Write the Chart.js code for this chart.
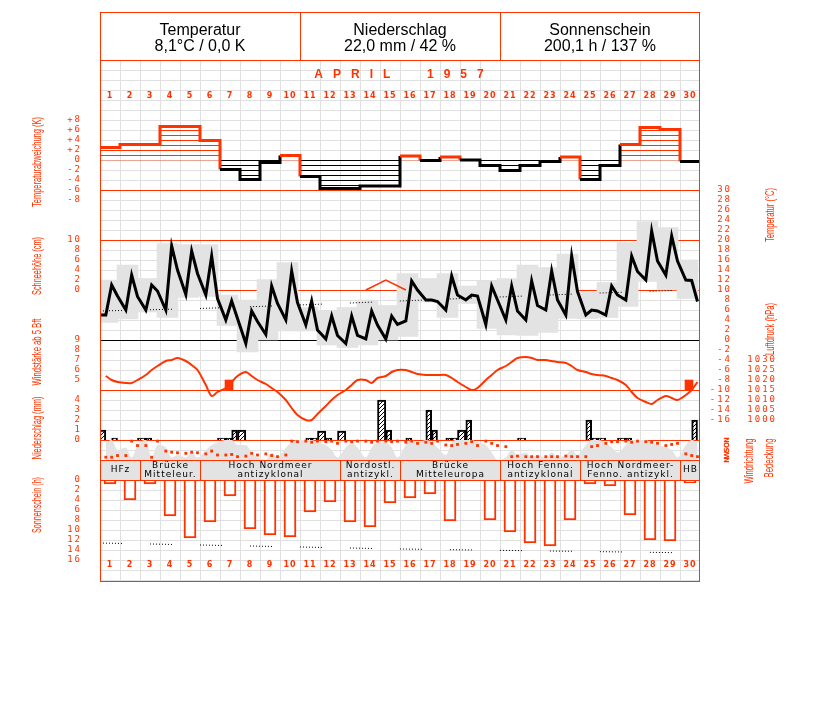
<!DOCTYPE html>
<html>
<head>
<meta charset="utf-8">
<script src="https://cdn.jsdelivr.net/npm/chart.js@4.4.0/dist/chart.umd.min.js"></script>
<style>
  html, body { margin: 0; background: #fff; }
  #wrap { width: 827px; height: 702px; position: relative; }
</style>
</head>
<body>
<div id="wrap"><canvas id="c"></canvas></div>
<script>
// Monthly climate sheet, April 1957. One Chart.js canvas, every panel is its own
// hidden y scale whose range is chosen so its values land in the right band.

const RED = '#ff3300';
const BOX_GREY = '#e3e3e3';
const GRID = '#e0e0e0';

// ---- header / labels ----
const headerTitles = ['Temperatur', 'Niederschlag', 'Sonnenschein'];
const headerValues = ['8,1°C / 0,0 K', '22,0 mm / 42 %', '200,1 h / 137 %'];
const monthTitle = 'APRIL  1957';
const dayLabels = ['1','2','3','4','5','6','7','8','9','10','11','12','13','14','15',
  '16','17','18','19','20','21','22','23','24','25','26','27','28','29','30'];

// tick labels per panel
const devTicks = [8, 6, 4, 2, 0, -2, -4, -6, -8];
const snowTicks = [10, 8, 6, 4, 2, 0];
const windTicks = [9, 8, 7, 6, 5];
const rrTicks = [4, 3, 2, 1, 0];
const sunTicks = [0, 2, 4, 6, 8, 10, 12, 14, 16];
const tempTicks = [30, 28, 26, 24, 22, 20, 18, 16, 14, 12, 10, 8, 6, 4, 2, 0, -2, -4, -6, -8, -10, -12, -14, -16];
const presTicks = [1030, 1025, 1020, 1015, 1010, 1005, 1000];
const dirTickValues = [0, 90, 180, 270, 360];
const dirTickLabels = ['N', 'O', 'S', 'W', 'N'];

// ---- daily data ----
// temperature deviation (K), one step per day
const tempDev = [2.5, 3.1, 3.1, 6.7, 6.7, 3.9, -1.9, -3.9, -0.5, 0.9,
  -3.3, -5.7, -5.7, -5.2, -5.2, 0.8, -0.1, 0.6, 0, -1.1,
  -2.1, -1.1, -0.3, 0.6, -3.9, -1.1, 3.1, 6.5, 6.1, -0.3];

// air temperature (°C) at 7, 14, 21 h
const prevT21 = 5.0; // 31 March, 21 h
const temp7 = [5.0, 6, 6, 6, 9.1, 9, 4, -0.7, 1.1, 4,
  3, 0.2, -0.7, 0.2, 0.2, 3.8, 8, 6, 8, 3.1,
  4, 4, 6, 5, 5, 5, 8, 12, 13, 12];
const temp14 = [11, 13, 11, 18.8, 17.8, 16.8, 7.8, 5.8, 10.8, 13.8,
  7.8, 4.8, 4.8, 5.8, 4.8, 11.8, 8, 12.8, 9, 10.8,
  10.8, 11.8, 13.8, 16.8, 6, 10.8, 16.8, 21.8, 20.8, 11.9];
const temp21 = [8.8, 8.7, 9.8, 14, 13.3, 8.3, 4.3, 3.7, 7.3, 7.5,
  2, 0.9, 0.9, 3, 3.1, 10, 7.7, 9, 8.8, 8,
  5.8, 6.9, 8, 9.7, 5.8, 9, 13.7, 15.8, 15.8, 7.7];
// daily extremes (21 h - 21 h)
const tempMax = [12, 15, 12.3, 19.3, 19.1, 19.1, 9, 8, 12.1, 15.5,
  6.5, 5.8, 6.5, 8, 6.9, 13.3, 12.3, 13.3, 10.8, 11.8,
  12.3, 15, 14.5, 17.2, 9.7, 11.5, 19.5, 23.7, 22.5, 16];
const tempMin = [3.5, 4.2, 5.6, 4.5, 8.5, 8.7, 2.9, -2.4, 0, 1.8,
  1.8, -1, -1.5, -1, 0, 0.7, 7.6, 4.5, 7.3, 2.3,
  1, 0.9, 1.5, 4.3, 4.3, 4.5, 6.7, 11.7, 10, 8.3];
// long-term mean temperature (°C), read at day 0, 5, ... 30
const normalDay = [0, 5, 10, 15, 20, 25, 30];
const normalTemp = [5.8, 6.3, 7.0, 7.8, 8.6, 9.4, 10.1];

// snow depth (cm) at 7 h
const snow7 = [null, null, null, null, null, null, null, null, null, null,
  null, null, null, 0, 2, 0, null, null, null, null,
  null, null, null, null, null, null, null, null, null, null];

// air pressure (hPa) at 7, 14, 21 h
const pres7 = [1022, 1018.5, 1022.5, 1029.5, 1029.5, 1017.5, 1016, 1024, 1018, 1010,
  1000, 1007, 1015, 1020, 1022, 1025, 1022.5, 1022.5, 1016.5, 1020,
  1027, 1031.5, 1030, 1028.5, 1024, 1022, 1017.5, 1009, 1012, 1012.5];
const pres14 = [1020, 1018.5, 1025, 1030, 1027.5, 1012, 1019, 1022, 1016, 1006,
  1000, 1010, 1017.5, 1018.5, 1024, 1024, 1022.5, 1021, 1015, 1022.5,
  1029, 1031, 1029.5, 1027, 1023, 1021, 1014, 1008, 1011, 1015];
const pres21 = [1019, 1020, 1027, 1031, 1025, 1014, 1022, 1020, 1014, 1002.5,
  1003, 1012.5, 1020, 1021, 1025, 1023, 1022.5, 1019, 1016, 1025,
  1031, 1030, 1029, 1025, 1022.5, 1020, 1011, 1010, 1010, 1019];

// wind force >= 5 Bft (day, force)
const windDays = [7, 30];
const windForce = [5, 5];

// precipitation (mm) per observation interval; null = none
// night: 21 h of the day before until 7 h of this day
const rainNight = [1.0, null, 0.2, null, null, null, 0.2, 1.0, null, null,
  null, 0.9, 0.9, null, 4.0, null, null, null, 1.0, null,
  null, 0.2, null, null, null, 0.2, 0.2, null, null, null];
const rainAM = [null, null, 0.2, null, null, null, 0.2, null, null, null,
  0.2, 0.2, null, null, 1.0, 0.2, 3.0, 0.2, 2.0, null,
  null, null, null, null, 2.0, null, 0.2, null, null, null];
const rainPM = [0.2, null, null, null, null, null, 1.0, null, null, null,
  0.2, null, null, null, null, null, 1.0, 0.2, null, null,
  null, null, null, null, 0.2, null, null, null, null, 2.0];

// wind direction (degrees) at 7, 14, 21 h
const dir7 = [310, 280, 100, 200, 240, 250, 270, 290, 250, 270,
  20, 30, 20, 20, 20, 40, 40, 90, 60, 20,
  120, 300, 300, 290, 300, 60, 20, 30, 100, 250];
const dir14 = [310, 20, 310, 220, 220, 200, 260, 240, 280, 20,
  40, 20, 30, 40, 30, 20, 60, 100, 30, 60,
  300, 300, 300, 300, 120, 30, 40, 40, 80, 280];
const dir21 = [280, 100, 20, 230, 230, 270, 300, 270, 300, 30,
  20, 60, 20, 20, 20, 60, 20, 80, 100, 100,
  290, 300, 300, 300, 100, 30, 20, 60, 60, 300];

// cloud cover (octas) at 7, 14, 21 h
const cloud7 = [7, 5, 8, 5, 1, 4, 8, 6, 0, 5,
  8, 6, 5, 1, 7, 6, 8, 2, 8, 6,
  1, 3, 1, 2, 6, 7, 6, 8, 5, 6];
const cloud14 = [8, 1, 1, 1, 3, 6, 8, 3, 3, 7,
  8, 4, 7, 5, 5, 8, 7, 7, 8, 3,
  4, 1, 3, 4, 8, 5, 8, 7, 4, 8];
const cloud21 = [4, 6, 6, 2, 1, 7, 6, 1, 1, 8,
  7, 1, 5, 7, 1, 7, 5, 8, 7, 0,
  2, 2, 1, 2, 8, 3, 8, 6, 1, 7];

// sunshine duration (h) and possible sunshine (h)
const sunshine = [0.8, 4, 0.8, 7.2, 11.6, 8.4, 3.2, 9.8, 11, 11.4,
  6.4, 4.4, 8.4, 9.4, 4.6, 3.6, 2.8, 8.2, 0, 8,
  10.4, 12.6, 13.2, 8, 0.8, 1.2, 7, 12, 12.2, 0.6];
const possibleDay = [0, 15, 30];
const possibleSun = [12.6, 13.8, 14.6];

// Großwetterlagen
const regimeFrom = [1, 3, 6, 13, 16, 21, 25, 30];
const regimeTo = [2, 5, 12, 15, 20, 24, 29, 30];
const regimeText = [['HFz'], ['Brücke', 'Mitteleur.'], ['Hoch Nordmeer', 'antizyklonal'],
  ['Nordostl.', 'antizykl.'], ['Brücke', 'Mitteleuropa'], ['Hoch Fenno.', 'antizyklonal'],
  ['Hoch Nordmeer-', 'Fenno. antizykl.'], ['HB']];

// ---- helpers ----
const TOP = 12, BOTTOM = 582;
// range of a hidden y axis so that value v0 sits at pixel px0 with ppu pixels per unit
function band(v0, px0, ppu, reverse) {
  if (reverse) return { min: v0 - (px0 - TOP) / ppu, max: v0 + (BOTTOM - px0) / ppu, reverse: true };
  return { min: v0 - (BOTTOM - px0) / ppu, max: v0 + (px0 - TOP) / ppu };
}
const hidden = (r) => ({ type: 'linear', display: false, grid: { display: false }, ...r });

function readings(a7, a14, a21) {
  const pts = [];
  a7.forEach((_, i) => {
    pts.push({ x: i + 7 / 24, y: a7[i] }, { x: i + 14 / 24, y: a14[i] }, { x: i + 21 / 24, y: a21[i] });
  });
  return pts;
}
// bar data centred on an observation interval (hours from midnight of the day)
const interval = (arr, h0, h1) => arr.map((v, i) => ({ x: i + (h0 + h1) / 48, y: v }));

const cctx = document.getElementById('c').getContext('2d');
function hLines(color) {
  const p = document.createElement('canvas');
  p.width = 4; p.height = 5;
  const g = p.getContext('2d');
  g.fillStyle = color; g.fillRect(0, 0, 4, 1);
  return cctx.createPattern(p, 'repeat');
}
function diagLines(color) {
  const p = document.createElement('canvas');
  p.width = 4; p.height = 4;
  const g = p.getContext('2d');
  g.fillStyle = '#fff'; g.fillRect(0, 0, 4, 4);
  g.fillStyle = color;
  for (let i = 0; i < 4; i++) g.fillRect(3 - i, i, 1, 1);
  return cctx.createPattern(p, 'repeat');
}
const redHatch = hLines(RED), blackHatch = hLines('#000'), rainHatch = diagLines('#000');

// dotted run with gaps, as on the printed sheet
const dottedRun = [];
for (let i = 0; i < 7; i++) dottedRun.push(1, 2);
dottedRun.push(1, 28);

const H = 20 / 24; // pixels per hour
const rainBar = (data, hours) => ({
  type: 'bar', yAxisID: 'yRR', order: 2, grouped: false, barThickness: hours * H,
  data, backgroundColor: rainHatch, borderColor: '#000', borderWidth: 2, borderSkipped: 'bottom',
});

// ---- datasets ----
const tempPts = [{ x: -3 / 24, y: prevT21 }, ...readings(temp7, temp14, temp21)];
const devStep = tempDev.map((v, i) => ({ x: i, y: v })).concat([{ x: 30, y: tempDev[29] }]);

const datasets = [
  { // deviation outline
    type: 'line', yAxisID: 'yDev', order: 1, data: devStep, stepped: true,
    borderWidth: 3, pointRadius: 0,
    segment: { borderColor: (c) => (c.p0.parsed.y > 0 ? RED : '#000') },
  },
  { // deviation hatch
    type: 'bar', yAxisID: 'yDev', order: 2, grouped: false, barThickness: 20,
    data: tempDev.map((v, i) => ({ x: i + 0.5, y: v })),
    backgroundColor: (c) => (c.raw && c.raw.y > 0 ? redHatch : blackHatch), borderWidth: 0,
  },
  { // temperature 7/14/21
    type: 'line', yAxisID: 'yT', order: 1, data: tempPts,
    borderColor: '#000', borderWidth: 3, pointRadius: 0, tension: 0,
  },
  { // snow depth
    type: 'line', yAxisID: 'ySnow', order: 2, spanGaps: false,
    data: snow7.map((v, i) => ({ x: i + 7 / 24, y: v })),
    borderColor: RED, borderWidth: 1.5, pointRadius: 0,
  },
  { // normal temperature
    type: 'line', yAxisID: 'yT', order: 3,
    data: normalDay.map((d, i) => ({ x: d, y: normalTemp[i] })),
    borderColor: '#000', borderWidth: 1, borderDash: dottedRun, pointRadius: 0,
  },
  { // min-max boxes
    type: 'bar', yAxisID: 'yT', order: 4, grouped: false, barThickness: 21,
    data: tempMin.map((v, i) => ({ x: i + 0.375, y: [v, tempMax[i]] })),
    backgroundColor: BOX_GREY, borderWidth: 0,
  },
  { // pressure
    type: 'line', yAxisID: 'yP', order: 2, data: readings(pres7, pres14, pres21),
    borderColor: RED, borderWidth: 2, pointRadius: 0, tension: 0.3,
  },
  { // wind force
    type: 'bar', yAxisID: 'yWind', order: 2, grouped: false, barThickness: 8,
    data: windDays.map((d, i) => ({ x: d - 0.55, y: [4, windForce[i]] })),
    backgroundColor: RED, borderWidth: 0,
  },
  rainBar(interval(rainNight, -3, 7), 10),
  rainBar(interval(rainAM, 7, 14), 7),
  rainBar(interval(rainPM, 14, 21), 7),
  { // wind direction
    type: 'line', yAxisID: 'yDir', order: 1, data: readings(dir7, dir14, dir21), showLine: false,
    pointStyle: 'rect', pointRadius: 2, pointBackgroundColor: RED, pointBorderWidth: 0,
  },
  { // cloud cover
    type: 'line', yAxisID: 'yCloud', order: 5, data: readings(cloud7, cloud14, cloud21),
    fill: 'origin', backgroundColor: BOX_GREY, borderWidth: 0, pointRadius: 0,
    cubicInterpolationMode: 'monotone',
  },
  { // possible sunshine
    type: 'line', yAxisID: 'ySun', order: 4,
    data: possibleDay.map((d, i) => ({ x: d, y: possibleSun[i] })),
    borderColor: '#000', borderWidth: 1, borderDash: dottedRun, pointRadius: 0,
  },
  { // sunshine
    type: 'bar', yAxisID: 'ySun', order: 3, grouped: false, barThickness: 12,
    data: sunshine.map((v, i) => ({ x: i + 0.5, y: v })),
    backgroundColor: '#fff', borderColor: RED, borderWidth: 2, borderSkipped: 'start',
  },
];

// ---- drawing of the sheet around the data ----
function setFont(ctx, font, color, align, base, spacing) {
  ctx.font = font; ctx.fillStyle = color; ctx.textAlign = align; ctx.textBaseline = base || 'middle';
  ctx.letterSpacing = spacing || '0px';
}
function vText(ctx, s, x, y, len, font, color) {
  ctx.save();
  setFont(ctx, font, color, 'center');
  const w = ctx.measureText(s).width;
  ctx.translate(x, y); ctx.rotate(-Math.PI / 2); ctx.scale(len / w, 1);
  ctx.fillText(s, 0, 0);
  ctx.restore();
}
function hLine(ctx, x0, x1, y, color, w) {
  ctx.strokeStyle = color; ctx.lineWidth = w || 1;
  ctx.beginPath(); ctx.moveTo(x0, y); ctx.lineTo(x1, y); ctx.stroke();
}
function vLine(ctx, x, y0, y1, color, w) {
  ctx.strokeStyle = color; ctx.lineWidth = w || 1;
  ctx.beginPath(); ctx.moveTo(x, y0); ctx.lineTo(x, y1); ctx.stroke();
}

const sheet = {
  id: 'sheet',
  beforeDraw(chart) {
    const ctx = chart.ctx;
    ctx.save();
    ctx.fillStyle = '#fff'; ctx.fillRect(0, 0, chart.width, chart.height);
    ctx.restore();
  },
  beforeDatasetsDraw(chart) {
    const { ctx, chartArea: a, scales } = chart;
    const x = scales.x;
    ctx.save();
    for (let py = 70.5; py < a.bottom; py += 10) hLine(ctx, a.left, a.right, py, GRID, 1);
    for (let d = 1; d < 30; d++) vLine(ctx, Math.round(x.getPixelForValue(d)) + 0.5, 60, a.bottom, GRID, 1);
    // reference lines of the panels
    const yT = scales.yT;
    [30, 20, 10].forEach((v) => hLine(ctx, a.left, a.right, Math.round(yT.getPixelForValue(v)) + 0.5, RED, 1));
    hLine(ctx, a.left, a.right, Math.round(yT.getPixelForValue(0)) + 0.5, '#000', 1);
    hLine(ctx, a.left, a.right, Math.round(scales.yP.getPixelForValue(1015)) + 0.5, RED, 1);
    hLine(ctx, a.left, a.right, Math.round(scales.yRR.getPixelForValue(0)) + 0.5, RED, 1);
    hLine(ctx, a.left, a.right, Math.round(scales.yCloud.getPixelForValue(0)) + 0.5, RED, 1);
    ctx.restore();
  },
  afterDatasetsDraw(chart) {
    const { ctx, chartArea: a, scales } = chart;
    const x = scales.x;
    ctx.save();
    // Großwetterlagen band
    const bTop = scales.yCloud.getPixelForValue(0), bBot = scales.ySun.getPixelForValue(0);
    ctx.fillStyle = BOX_GREY;
    ctx.fillRect(a.left, bTop, a.right - a.left, bBot - bTop);
    regimeFrom.forEach((d0, i) => {
      const x0 = x.getPixelForValue(d0 - 1), x1 = x.getPixelForValue(regimeTo[i]);
      if (d0 > 1) vLine(ctx, Math.round(x0) + 0.5, bTop, bBot, RED, 1);
      setFont(ctx, '9px "DejaVu Sans"', '#000', 'center', 'middle', '1px');
      const lines = regimeText[i];
      const cx = (x0 + x1) / 2 + 0.5, cy = (bTop + bBot) / 2;
      lines.forEach((s, k) => ctx.fillText(s, cx, cy + (k - (lines.length - 1) / 2) * 9));
    });
    hLine(ctx, a.left, a.right, Math.round(bTop) + 0.5, RED, 1);
    hLine(ctx, a.left, a.right, Math.round(bBot) + 0.5, RED, 1);

    // frame and header
    ctx.fillStyle = '#fff';
    ctx.fillRect(a.left, a.top, a.right - a.left, 48);
    ctx.strokeStyle = RED; ctx.lineWidth = 1;
    ctx.strokeRect(a.left + 0.5, a.top + 0.5, a.right - a.left - 1, a.bottom - a.top - 1);
    hLine(ctx, a.left, a.right, 60.5, RED, 1);
    vLine(ctx, 300.5, a.top, 60, RED, 1);
    vLine(ctx, 500.5, a.top, 60, RED, 1);
    headerTitles.forEach((t, i) => {
      const cx = 200 + i * 200;
      setFont(ctx, '16px "Liberation Sans", Arial', '#000', 'center', 'middle', '0px');
      ctx.fillText(t, cx, 31);
      ctx.fillText(headerValues[i], cx, 47);
    });
    setFont(ctx, 'bold 12px "Liberation Sans", Arial', RED, 'center', 'middle', '10px');
    ctx.fillText(monthTitle, 404, 75);

    // day numbers top and bottom
    setFont(ctx, 'bold 8px "DejaVu Sans"', RED, 'center', 'middle', '1px');
    dayLabels.forEach((s, i) => {
      const cx = x.getPixelForValue(i + 0.5);
      ctx.fillText(s, cx, 96);
      ctx.fillText(s, cx, 565);
    });

    // left ticks
    const tickFont = '9px "DejaVu Sans Mono"';
    setFont(ctx, tickFont, RED, 'right', 'middle', '2px');
    const leftX = 82;
    devTicks.forEach((v) => ctx.fillText((v > 0 ? '+' : '') + v, leftX, scales.yDev.getPixelForValue(v)));
    snowTicks.forEach((v) => ctx.fillText(String(v), leftX, scales.ySnow.getPixelForValue(v)));
    windTicks.forEach((v) => ctx.fillText(String(v), leftX, scales.yWind.getPixelForValue(v)));
    rrTicks.forEach((v) => ctx.fillText(String(v), leftX, scales.yRR.getPixelForValue(v)));
    sunTicks.forEach((v) => ctx.fillText(String(v), leftX, scales.ySun.getPixelForValue(v)));
    // right ticks
    tempTicks.forEach((v) => ctx.fillText(String(v), 732, scales.yT.getPixelForValue(v)));
    presTicks.forEach((v) => ctx.fillText(String(v), 777, scales.yP.getPixelForValue(v)));
    dirTickValues.forEach((v, i) => {
      ctx.save();
      ctx.translate(727, scales.yDir.getPixelForValue(v));
      ctx.rotate(-Math.PI / 2);
      setFont(ctx, 'bold 7px "DejaVu Sans"', RED, 'center', 'middle', '0px');
      ctx.fillText(dirTickLabels[i], 0, 0);
      ctx.restore();
    });

    // axis titles
    const tf = '13px "Liberation Sans Narrow", "Liberation Sans", Arial';
    vText(ctx, 'Temperaturabweichung (K)', 37, 162, 90, tf, RED);
    vText(ctx, 'Schneehöhe (cm)', 37, 266, 58, tf, RED);
    vText(ctx, 'Windstärke ab 5 Bft', 37, 352, 67, tf, RED);
    vText(ctx, 'Niederschlag (mm)', 37, 428, 63, tf, RED);
    vText(ctx, 'Sonnenschein (h)', 37, 505, 56, tf, RED);
    vText(ctx, 'Temperatur (°C)', 770, 215, 54, tf, RED);
    vText(ctx, 'Luftdruck (hPa)', 770, 329, 52, tf, RED);
    vText(ctx, 'Windrichtung', 749, 461, 45, tf, RED);
    vText(ctx, 'Bedeckung', 769, 458, 39, tf, RED);
    ctx.restore();
  },
};

new Chart(document.getElementById('c'), {
  type: 'line',
  data: { datasets },
  options: {
    responsive: true,
    maintainAspectRatio: false,
    animation: false,
    events: [],
    layout: { padding: { left: 100, right: 127, top: 12, bottom: 120 } },
    plugins: { legend: { display: false }, tooltip: { enabled: false }, title: { display: false } },
    scales: {
      x: { type: 'linear', display: false, offset: false, min: 0, max: 30, grid: { display: false } },
      yDev: hidden(band(0, 160, 5)),
      yT: hidden(band(0, 340, 5)),
      ySnow: hidden(band(0, 290, 5)),
      yP: hidden(band(1030, 360, 2)),
      yWind: hidden(band(9, 340, 10)),
      yRR: hidden(band(0, 440, 10)),
      yCloud: hidden(band(0, 460, 2.5)),
      yDir: hidden(band(0, 440, 1 / 18, true)),
      ySun: hidden(band(0, 480, 5, true)),
    },
  },
  plugins: [sheet],
});
</script>
</body>
</html>
